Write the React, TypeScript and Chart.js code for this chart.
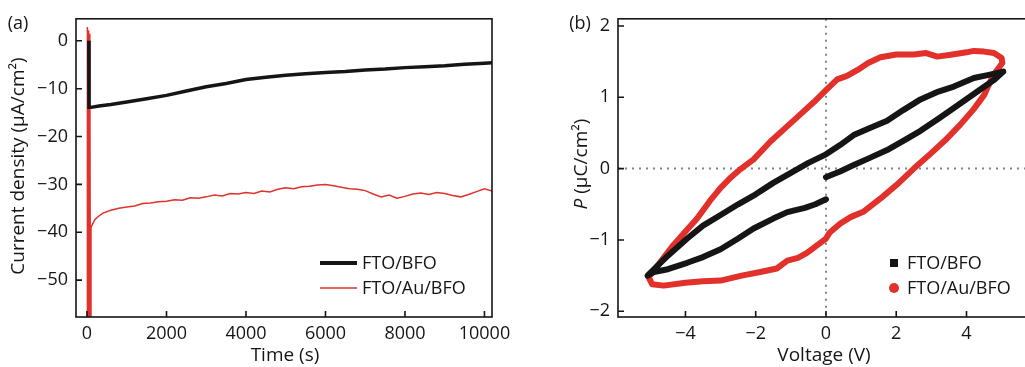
import React, { useEffect, useRef } from 'react';
import { Chart, registerables } from 'chart.js';
Chart.register(...registerables);

const FONT = '"Open Sans", "DejaVu Sans", sans-serif';
const INK = '#151515';
const RED = '#e2302b';

// ---------- Panel (a): current density vs time ----------
const A_X_TICKS = [0, 2000, 4000, 6000, 8000, 10000];
const A_Y_TICKS = [0, -10, -20, -30, -40, -50];
const A_BLACK_T = [45, 50, 100, 300, 600, 1000, 1500, 2000, 2500, 3000, 3500, 4000, 4500, 5000, 5500, 6000, 6500, 7000, 7500, 8000, 8500, 9000, 9500, 10000, 10200];
const A_BLACK_J = [0, -13.9, -13.9, -13.6, -13.3, -12.8, -12.1, -11.4, -10.5, -9.6, -8.9, -8.1, -7.6, -7.2, -6.9, -6.6, -6.4, -6.1, -5.9, -5.6, -5.4, -5.2, -4.9, -4.7, -4.6];
const A_RED_T = [0, 10, 25, 40, 55, 70, 85, 100, 140, 200, 300, 400, 600, 800, 1000, 1200, 1400, 1600, 1800, 2000, 2200, 2400, 2600, 2800, 3000, 3200, 3400, 3600, 3800, 4000, 4200, 4400, 4600, 4800, 5000, 5200, 5400, 5600, 5800, 6000, 6200, 6400, 6600, 6800, 7000, 7200, 7400, 7600, 7800, 8000, 8200, 8400, 8600, 8800, 9000, 9200, 9400, 9600, 9800, 10000, 10200];
const A_RED_J = [-60, 2.9, -60, 2.2, -60, 1.5, -60, -39.0, -38.3, -37.3, -36.6, -36.0, -35.4, -35.0, -34.7, -34.5, -34.0, -33.9, -33.6, -33.5, -33.2, -33.3, -32.8, -32.9, -32.6, -32.2, -32.4, -31.9, -32.0, -31.7, -31.9, -31.4, -31.6, -31.0, -30.7, -30.9, -30.5, -30.4, -30.1, -30.0, -30.3, -30.6, -30.9, -31.0, -31.3, -32.0, -32.6, -32.2, -32.9, -32.5, -32.0, -31.8, -32.1, -31.7, -31.9, -32.3, -32.6, -32.1, -31.5, -30.9, -31.4];

// ---------- Panel (b): P–V hysteresis ----------
const B_X_TICKS = [-4, -2, 0, 2, 4];
const B_Y_TICKS = [-2, -1, 0, 1, 2];
const B_BLACK_V = [0.0, -0.3, -0.6, -1.1, -1.5, -2.06, -2.5, -3.0, -3.5, -3.95, -4.5, -4.9, -5.08, -4.5, -3.95, -3.5, -3.0, -2.5, -2.0, -1.5, -1.0, -0.5, 0.0, 0.4, 0.79, 1.2, 1.74, 2.2, 2.69, 3.2, 3.64, 4.21, 4.6, 5.05, 4.8, 4.31, 3.64, 3.2, 2.69, 2.2, 1.74, 1.2, 0.79, 0.4, 0.15, 0.0];
const B_BLACK_P = [-0.43, -0.5, -0.55, -0.61, -0.7, -0.84, -0.98, -1.13, -1.24, -1.32, -1.41, -1.45, -1.5, -1.22, -0.98, -0.8, -0.65, -0.5, -0.36, -0.2, -0.06, 0.08, 0.2, 0.33, 0.47, 0.56, 0.67, 0.82, 0.97, 1.08, 1.15, 1.27, 1.31, 1.36, 1.25, 1.08, 0.85, 0.7, 0.53, 0.39, 0.26, 0.14, 0.05, -0.04, -0.09, -0.12];
const B_RED_V = [-5.05, -4.7, -4.34, -4.0, -3.67, -3.3, -3.0, -2.7, -2.44, -2.06, -1.58, -1.2, -0.73, -0.35, 0.0, 0.32, 0.6, 0.89, 1.2, 1.55, 2.0, 2.5, 2.85, 3.17, 3.6, 4.0, 4.21, 4.5, 4.78, 5.0, 5.02, 4.75, 4.5, 4.2, 3.83, 3.4, 2.98, 2.5, 2.03, 1.6, 1.08, 0.7, 0.41, 0.1, 0.0, -0.54, -0.8, -1.1, -1.4, -1.87, -2.4, -3.0, -3.5, -4.0, -4.62, -4.95, -5.05];
const B_RED_P = [-1.52, -1.3, -1.07, -0.88, -0.7, -0.45, -0.27, -0.12, -0.01, 0.13, 0.38, 0.55, 0.76, 0.93, 1.1, 1.25, 1.3, 1.38, 1.48, 1.56, 1.6, 1.6, 1.62, 1.57, 1.6, 1.63, 1.65, 1.64, 1.62, 1.55, 1.48, 1.3, 1.03, 0.83, 0.62, 0.4, 0.21, 0.0, -0.22, -0.4, -0.6, -0.68, -0.77, -0.9, -0.98, -1.18, -1.25, -1.29, -1.4, -1.45, -1.5, -1.57, -1.58, -1.6, -1.64, -1.62, -1.52];

const fmt = (v: any) => (Number(v) < 0 ? '\u2212' + Math.abs(Number(v)) : String(v));
const pts = (xs: number[], ys: number[]) => xs.map((x, i) => ({ x, y: ys[i] }));

const framePlugin = {
  id: 'frame',
  beforeDatasetsDraw(chart: any, _a: any, opts: any) {
    if (!opts.zeroLines) return;
    const { ctx, chartArea: ca, scales } = chart;
    ctx.save();
    ctx.strokeStyle = '#7d8791';
    ctx.lineWidth = 2;
    ctx.setLineDash([2, 5]);
    const x0 = scales.x.getPixelForValue(0);
    const y0 = scales.y.getPixelForValue(0);
    ctx.beginPath();
    ctx.moveTo(x0, ca.top);
    ctx.lineTo(x0, ca.bottom);
    ctx.moveTo(ca.left, y0);
    ctx.lineTo(ca.right, y0);
    ctx.stroke();
    ctx.restore();
  },
  afterDraw(chart: any, _a: any, opts: any) {
    const { ctx, chartArea: ca, scales } = chart;
    ctx.save();
    ctx.strokeStyle = INK;
    ctx.lineWidth = 1.6;
    ctx.strokeRect(ca.left, ca.top, ca.right - ca.left, ca.bottom - ca.top);
    ctx.beginPath();
    for (const t of scales.x.ticks) {
      const px = scales.x.getPixelForValue(t.value);
      ctx.moveTo(px, ca.bottom);
      ctx.lineTo(px, ca.bottom - 6);
    }
    for (const t of scales.y.ticks) {
      const py = scales.y.getPixelForValue(t.value);
      ctx.moveTo(ca.left, py);
      ctx.lineTo(ca.left + 6, py);
    }
    ctx.stroke();
    // legend
    const items = opts.legend || [];
    ctx.font = '18px ' + FONT;
    ctx.textBaseline = 'middle';
    ctx.fillStyle = INK;
    chart.data.datasets.forEach((ds: any, i: number) => {
      const it = items[i];
      if (!it) return;
      if (it.kind === 'line') {
        ctx.strokeStyle = ds.borderColor;
        ctx.lineWidth = it.w;
        ctx.beginPath();
        ctx.moveTo(it.x, it.y);
        ctx.lineTo(it.x + 37, it.y);
        ctx.stroke();
      } else if (it.kind === 'square') {
        ctx.fillStyle = ds.borderColor;
        ctx.fillRect(it.x - 4, it.y - 4, 8, 8);
      } else {
        ctx.fillStyle = ds.borderColor;
        ctx.beginPath();
        ctx.arc(it.x, it.y, 5, 0, Math.PI * 2);
        ctx.fill();
      }
      ctx.fillStyle = INK;
      ctx.fillText(ds.label, it.tx, it.y + 1);
    });
    ctx.restore();
  },
};

function axis(min: number, max: number, ticks: number[], size: number, isX: boolean, pad: number) {
  return {
    type: 'linear',
    min,
    max,
    afterBuildTicks: (s: any) => {
      s.ticks = ticks.map((v) => ({ value: v }));
    },
    afterFit: (s: any) => {
      if (isX) s.height = size;
      else s.width = size;
    },
    grid: { display: false, drawTicks: false },
    border: { display: false },
    ticks: {
      font: { family: FONT, size: 18 },
      color: INK,
      padding: pad,
      maxRotation: 0,
      autoSkip: false,
      callback: fmt,
    },
  };
}

function PanelA() {
  const ref = useRef<HTMLCanvasElement>(null);
  useEffect(() => {
    const chart = new Chart(ref.current as any, {
      type: 'line',
      data: {
        datasets: [
          { label: 'FTO/BFO', data: pts(A_BLACK_T, A_BLACK_J), borderColor: INK, borderWidth: 3.5, pointRadius: 0, tension: 0 },
          { label: 'FTO/Au/BFO', data: pts(A_RED_T, A_RED_J), borderColor: RED, borderWidth: 1.5, pointRadius: 0, tension: 0 },
        ],
      },
      options: {
        animation: false,
        responsive: false,
        layout: { padding: { left: 0, right: 28, top: 13, bottom: 0 } },
        scales: {
          x: axis(-277, 10190, A_X_TICKS, 50, true, 6),
          y: axis(-57.7, 4.6, A_Y_TICKS, 76, false, 8),
        } as any,
        plugins: {
          legend: { display: false },
          tooltip: { enabled: false },
          frame: {
            legend: [
              { kind: 'line', x: 320, y: 263, w: 4, tx: 362 },
              { kind: 'line', x: 320, y: 288, w: 1.5, tx: 362 },
            ],
          },
        } as any,
      },
      plugins: [framePlugin],
    } as any);
    return () => chart.destroy();
  }, []);
  return <canvas ref={ref} width={520} height={367} style={{ position: 'absolute', left: 0, top: 0 }} />;
}

function PanelB() {
  const ref = useRef<HTMLCanvasElement>(null);
  useEffect(() => {
    const chart = new Chart(ref.current as any, {
      type: 'line',
      data: {
        datasets: [
          { label: 'FTO/BFO', data: pts(B_BLACK_V, B_BLACK_P), borderColor: INK, borderWidth: 6, pointRadius: 0, tension: 0, borderJoinStyle: 'round', borderCapStyle: 'round' },
          { label: 'FTO/Au/BFO', data: pts(B_RED_V, B_RED_P), borderColor: RED, borderWidth: 6, pointRadius: 0, tension: 0, borderJoinStyle: 'round', borderCapStyle: 'round' },
        ],
      },
      options: {
        animation: false,
        responsive: false,
        layout: { padding: { left: 0, right: 25, top: 13, bottom: 0 } },
        scales: {
          x: axis(-5.92, 5.95, B_X_TICKS, 50, true, 6),
          y: axis(-2.08, 2.1, B_Y_TICKS, 88, false, 8),
        } as any,
        plugins: {
          legend: { display: false },
          tooltip: { enabled: false },
          frame: {
            zeroLines: true,
            legend: [
              { kind: 'square', x: 364, y: 263, tx: 377 },
              { kind: 'circle', x: 364, y: 288, tx: 377 },
            ],
          },
        } as any,
      },
      plugins: [framePlugin],
    } as any);
    return () => chart.destroy();
  }, []);
  return <canvas ref={ref} width={530} height={367} style={{ position: 'absolute', left: 530, top: 0 }} />;
}

const txt: React.CSSProperties = {
  position: 'absolute',
  fontFamily: FONT,
  fontSize: 18,
  color: INK,
  whiteSpace: 'nowrap',
  lineHeight: 1,
};
const title: React.CSSProperties = { ...txt, fontSize: 19 };

export default function App() {
  return (
    <div style={{ position: 'fixed', left: 0, top: 0, width: 1025, height: 367, overflow: 'hidden', background: '#fff' }}>
      <PanelA />
      <PanelB />
      <div style={{ ...txt, left: 18, top: 22, transform: 'translate(-50%,-50%)' }}>(a)</div>
      <div style={{ ...txt, left: 580, top: 22, transform: 'translate(-50%,-50%)' }}>(b)</div>
      <div style={{ ...title, left: 17, top: 166, transform: 'translate(-50%,-50%) rotate(-90deg)' }}>Current density (μA/cm²)</div>
      <div style={{ ...title, left: 580, top: 164, transform: 'translate(-50%,-50%) rotate(-90deg)' }}>
        <i>P</i> (μC/cm²)
      </div>
      <div style={{ ...title, left: 285, top: 354, transform: 'translate(-50%,-50%)' }}>Time (s)</div>
      <div style={{ ...title, left: 824, top: 354, transform: 'translate(-50%,-50%)' }}>Voltage (V)</div>
    </div>
  );
}
